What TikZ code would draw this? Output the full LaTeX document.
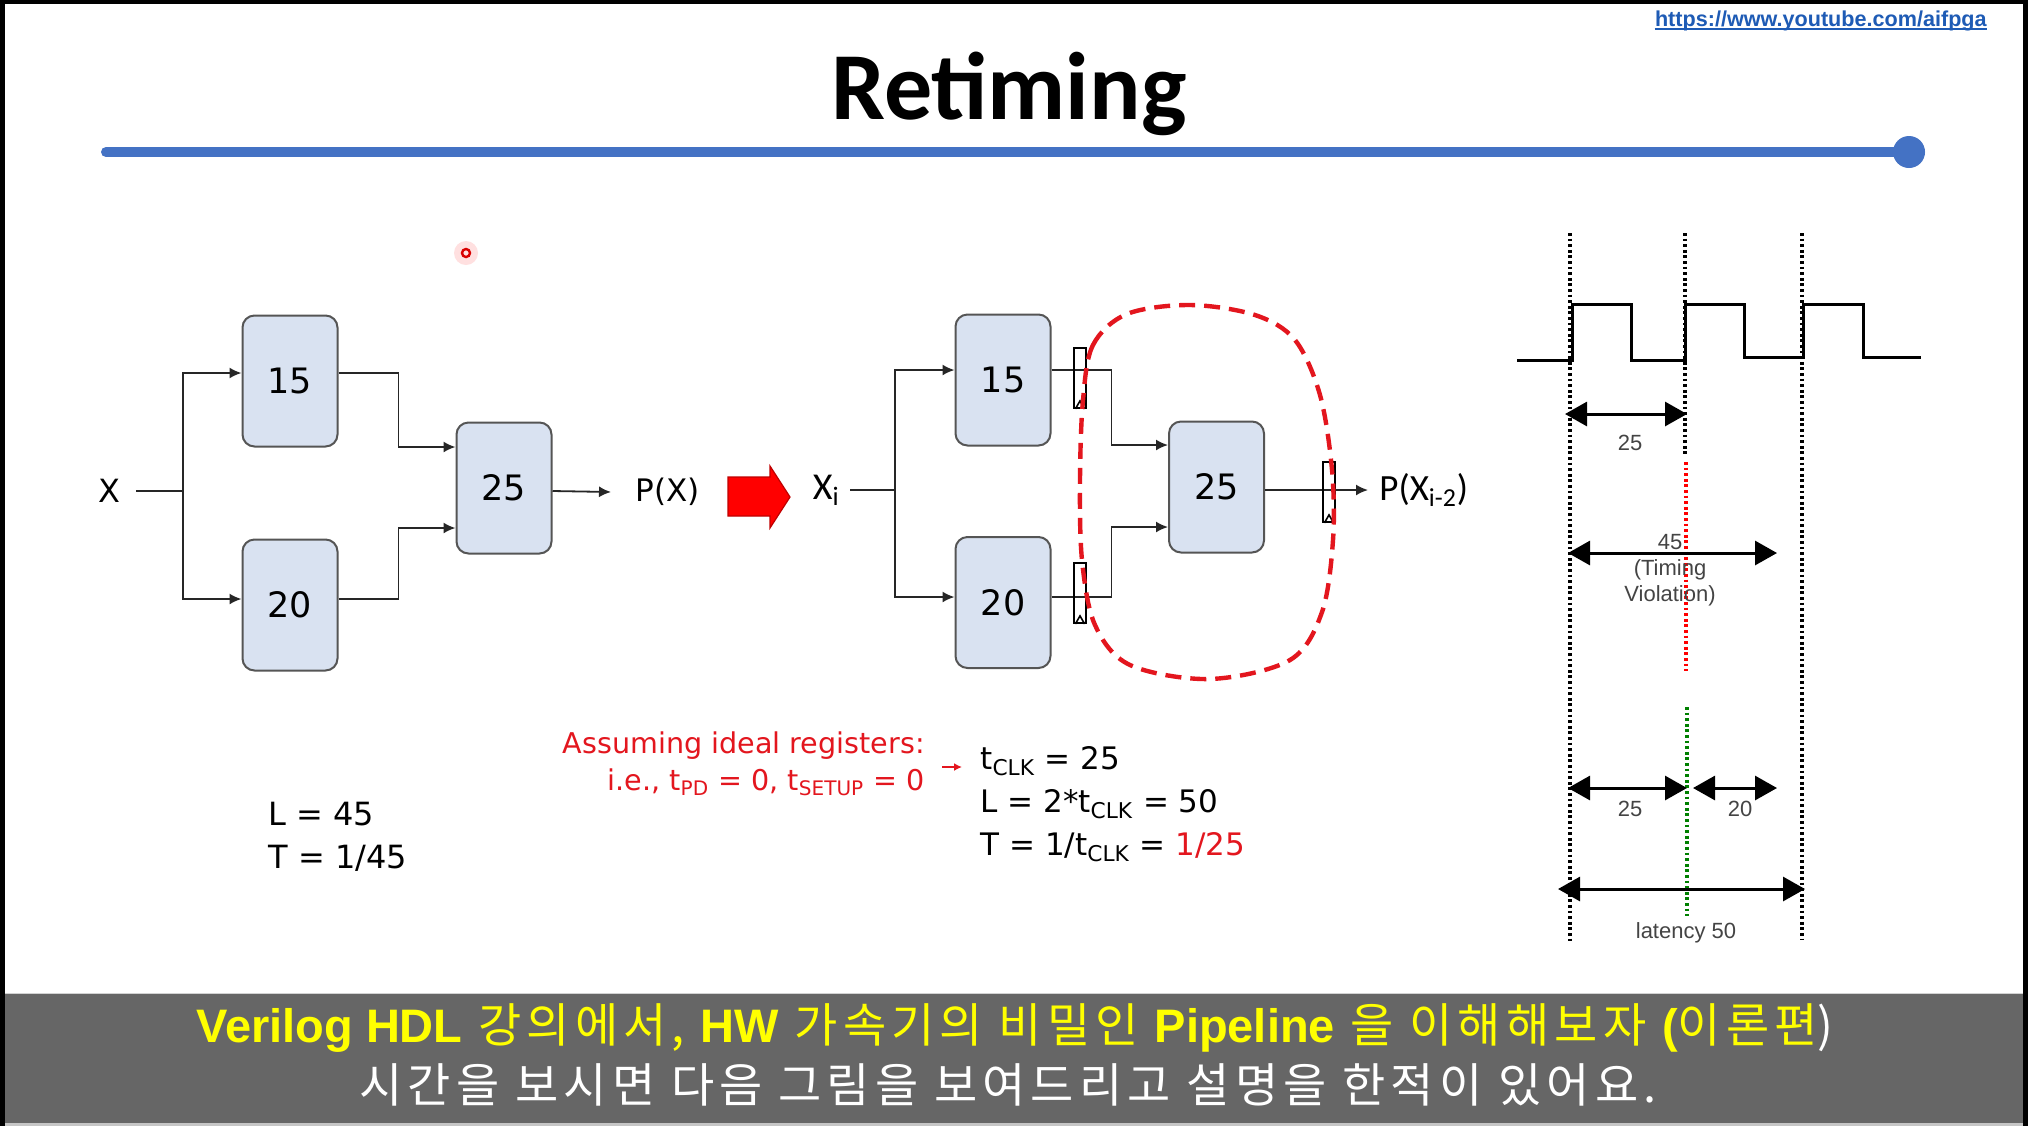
\documentclass[tikz,border=0pt]{standalone}
\usepackage{fontspec}
\usetikzlibrary{arrows.meta,calc}
\newfontfamily\djv{DejaVu Sans}
\newfontfamily\lib{Liberation Sans}
\newfontfamily\krf{Noto Sans CJK KR}[LetterSpace=11]
\newfontfamily\carl{Carlito}
\definecolor{boxfill}{HTML}{D9E2F1}
\definecolor{boxdraw}{HTML}{555555}
\definecolor{redT}{HTML}{E3161E}
\definecolor{urlblue}{HTML}{1E5BB5}
\definecolor{blueline}{HTML}{4472C4}
\definecolor{bandgray}{HTML}{666666}
\definecolor{subyellow}{HTML}{FFFF00}
\definecolor{tgray}{HTML}{444444}
\definecolor{arrred}{HTML}{FF0000}
\begin{document}
\begin{tikzpicture}[x=0.5pt,y=-0.5pt,
  blk/.style={draw=boxdraw, fill=boxfill, rounded corners=6pt, line width=1pt,
    minimum width=47.5pt, minimum height=65.5pt, inner sep=0pt,
    font=\djv\fontsize{17.5}{20}\selectfont},
  wire/.style={draw=black!85, line width=0.9pt},
  arr/.style={wire, -{Latex[length=6pt,width=5.5pt]}},
  reg/.style={draw=black, line width=0.9pt, minimum width=6pt, minimum height=30pt, inner sep=0pt},
  tdot/.style={line width=1.6pt, dash pattern=on 1.4pt off 1.4pt},
  wave/.style={line width=1.5pt},
  tarr/.style={line width=1.5pt, {Triangle[length=11pt,width=12pt]}-{Triangle[length=11pt,width=12pt]}},
  tlab/.style={font=\lib\fontsize{11}{13}\selectfont, text=tgray, inner sep=0pt},
  reddash/.style={draw=redT, line width=2.2pt, dash pattern=on 8pt off 4.5pt}
]
\useasboundingbox (0,0) rectangle (2028,1126);
% frame and background
\fill[black] (0,0) rectangle (2028,1126);
\fill[white] (5,4) rectangle (2023,993);
\fill[bandgray] (5,993) rectangle (2023,1123);
\fill[gray!45] (5,1123) rectangle (2023,1126);
\draw[gray!35, line width=0.8pt] (5,993.5) -- (2023,993.5);

% title, url, blue rule
\node[font=\carl\bfseries\fontsize{48}{50}\selectfont, anchor=base, inner sep=0pt] (title) at (1009,119) {Retiming};
\node[font=\lib\bfseries\fontsize{10.8}{12}\selectfont, text=urlblue, anchor=base east, inner sep=0pt] (url) at (1987,26) {https://www.youtube.com/aifpga};
\draw[urlblue, line width=0.8pt] ([yshift=-1.6pt]url.base west) -- ([yshift=-1.6pt]url.base east);
\draw[blueline, line width=5pt, line cap=round] (106,152) -- (1909,152);
\fill[blueline] (1909,152) circle (8pt);

% pointer dot
\fill[red!12] (466,253) circle (6pt);
\draw[red!85!black, line width=1.2pt] (466,253) circle (2pt);

% ---------------- left diagram
\node[blk] (a15) at (290,381) {15};
\node[blk] (a20) at (290,605) {20};
\node[blk] (a25) at (504,488) {25};
\node[font=\djv\fontsize{16}{18}\selectfont, anchor=east, inner xsep=7.5pt, inner ysep=0pt] (X) at (136,491) {X};
\node[font=\djv\fontsize{15.5}{18}\selectfont, anchor=west, inner xsep=12pt, inner ysep=0pt] (PX) at (611,492) {P(X)};
\coordinate (jL) at (183,491);
\draw[wire] (X.east) -- (jL);
\draw[arr] (jL) |- ([yshift=4pt]a15.west);
\draw[arr] (jL) |- ([yshift=3pt]a20.west);
\draw[arr] ([yshift=4pt]a15.east) -- ++(30pt,0) |- ([yshift=20.5pt]a25.west);
\draw[arr] ([yshift=3pt]a20.east) -- ++(30pt,0) |- ([yshift=-20pt]a25.west);
\draw[arr] ([yshift=-1.5pt]a25.east) -- (PX.west);

% red block arrow
\draw[fill=arrred, draw=arrred!75!black, line width=0.6pt]
  (728,477) -- (770,477) -- (770,466) -- (790,497) -- (770,528) -- (770,516) -- (728,516) -- cycle;

% ---------------- right diagram
\node[blk] (b15) at (1003,380) {15};
\node[blk] (b20) at (1003,602.5) {20};
\node[blk] (b25) at (1216.5,487) {25};
\node[font=\carl\fontsize{19}{20}\selectfont, anchor=east, inner xsep=5pt, inner ysep=0pt] (Xi) at (850,490) {X\textsubscript{i}};
\node[font=\carl\fontsize{18.5}{20}\selectfont, anchor=west, inner xsep=5.5pt, inner ysep=0pt] (PXi) at (1368,490) {P(X\textsubscript{i-2})};
\coordinate (jR) at (895,490);
\draw[wire] (Xi.east) -- (jR);
\draw[arr] (jR) |- ([yshift=5pt]b15.west);
\draw[arr] (jR) |- ([yshift=2.75pt]b20.west);
\draw[arr] ([yshift=5pt]b15.east) -- ++(30pt,0) |- ([yshift=21pt]b25.west);
\draw[arr] ([yshift=2.75pt]b20.east) -- ++(30pt,0) |- ([yshift=-20pt]b25.west);
\draw[arr] ([yshift=-1.5pt]b25.east) -- (PXi.west);
% registers
\node[reg] (r1) at (1080,378) {};
\node[reg] (r2) at (1080,593) {};
\node[reg] (r3) at (1329,492) {};
\foreach \r in {r1,r2,r3}
  \draw[line width=0.8pt] ([xshift=-2.3pt]\r.south) -- ([yshift=4pt]\r.south) -- ([xshift=2.3pt]\r.south);
% red dashed boundary
\draw[reddash] plot[smooth cycle, tension=0.55] coordinates {
  (1083,400) (1093,345) (1127,314) (1190,305) (1255,315) (1295,340) (1320,395)
  (1332,470) (1333,540) (1322,612) (1290,660) (1210,679) (1130,665) (1095,625)
  (1082,560) (1080,480)};

% ---------------- formulas
\node[font=\djv\fontsize{16}{21.5}\selectfont, anchor=west, align=left, inner sep=0pt] (LT) at (268,837) {L = 45\\T = 1/45};
\node[font=\djv\fontsize{14.3}{18.5}\selectfont, text=redT, anchor=east, align=right, inner sep=0pt] (assume) at (925,764)
  {Assuming ideal registers:\\i.e., t\textsubscript{PD} = 0, t\textsubscript{SETUP} = 0};
\node[font=\djv\fontsize{15.5}{21.5}\selectfont, anchor=west, align=left, inner sep=0pt] (calc) at (980,804)
  {t\textsubscript{CLK} = 25\\L = 2*t\textsubscript{CLK} = 50\\T = 1/t\textsubscript{CLK} = \textcolor{redT}{1/25}};
\coordinate (ra1) at (942,767);
\coordinate (ra2) at (962,767);
\draw[redT, line width=0.8pt, -{Latex[length=4pt,width=4pt]}] (ra1) -- (ra2);

% ---------------- timing diagram
\draw[tdot] (1570,233) -- (1570,944);
\draw[tdot] (1685,233) -- (1685,455);
\draw[tdot] (1802,233) -- (1802,940);
\draw[tdot, draw=red] (1686,462) -- (1686,671);
\draw[tdot, draw=green!50!black] (1687,707) -- (1687,916);
\draw[wave] (1517,360) -- (1572,360) -- (1572,304) -- (1631,304) -- (1631,360) -- (1685,360)
  -- (1685,304) -- (1744,304) -- (1744,357) -- (1803,357) -- (1803,304) -- (1863,304)
  -- (1863,357) -- (1921,357);
\draw[tarr] (1565,414) -- (1687,414);
\draw[tarr] (1568,553) -- (1777,553);
\draw[tarr] (1568,788) -- (1687,788);
\draw[tarr] (1693,788) -- (1777,788);
\draw[tarr] (1558,889) -- (1805,889);
\node[tlab] (t25a) at (1630,443) {25};
\node[tlab, align=center] (t45) at (1670,570) {45\\(Timing\\Violation)};
\node[tlab] (t25b) at (1630,809) {25};
\node[tlab] (t20) at (1740,809) {20};
\node[tlab] (tlat) at (1686,933) {latency 50};

% ---------------- subtitles
\node[font=\krf\fontsize{23.5}{26}\selectfont, text=subyellow, anchor=base, inner sep=0pt] (sub1) at (1015,1042)
  {{\lib\bfseries Verilog HDL} 강의에서, {\lib\bfseries HW} 가속기의 비밀인 {\lib\bfseries Pipeline} 을 이해해보자 {\lib\bfseries (}이론편\textcolor{white}{)}};
\node[font=\krf\fontsize{23.5}{26}\selectfont, text=white, anchor=base, inner sep=0pt] (sub2) at (1008,1102)
  {시간을 보시면 다음 그림을 보여드리고 설명을 한적이 있어요.};
\end{tikzpicture}
\end{document}
